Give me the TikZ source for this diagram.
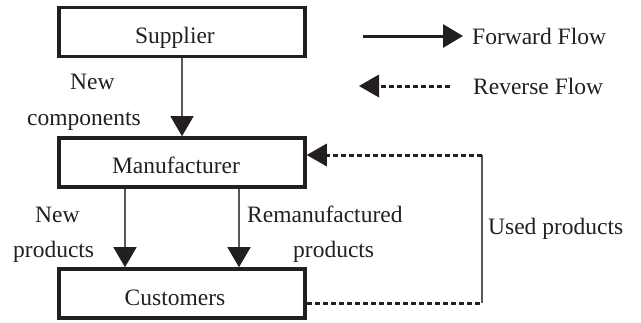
\documentclass[tikz,border=0pt]{standalone}
\usepackage{fontspec}
\setmainfont{Liberation Serif}
\usetikzlibrary{arrows.meta,calc}
\definecolor{ink}{HTML}{231F20}
\definecolor{thin}{HTML}{58595B}
\tikzset{
  box/.style={draw=ink,line width=3.6pt,minimum width=246pt,minimum height=49pt,inner sep=0pt,text=ink},
  lbl/.style={text=ink,inner sep=0pt,anchor=base west},
  fwd/.style={draw=thin,line width=1.3pt,-{Triangle[length=20pt,width=23pt,fill=ink,color=ink]}},
  rev/.style={draw=ink,line width=3pt,dash pattern=on 5pt off 3pt},
  revhead/.style={rev,-{Triangle[length=20pt,width=23pt,fill=ink,color=ink,line width=0pt]}},
  vline/.style={draw=thin,line width=1.3pt}
}
\begin{document}
\begin{tikzpicture}[x=1pt,y=-1pt,font=\fontsize{23.5}{28}\selectfont]
\useasboundingbox (0,0) rectangle (641,322);
\node[box] (sup) at (182,32) {};
\node[box] (man) at (182,162.5) {};
\node[box] (cus) at (182,293.5) {};
\node[text=ink,inner sep=0pt,anchor=base] (tsup) at (175,43) {Supplier};
\node[text=ink,inner sep=0pt,anchor=base] (tman) at (176,173) {Manufacturer};
\node[text=ink,inner sep=0pt,anchor=base] (tcus) at (175,305) {Customers};
% supplier -> manufacturer
\draw[fwd] (sup.south -| 182,0) -- (man.north -| 182,0);
\node[lbl] (nc1) at (70,89) {New};
\node[lbl] (nc2) at (27,125) {components};
% manufacturer -> customers
\coordinate (a1) at (125,0);
\coordinate (a2) at (239,0);
\draw[fwd] (man.south -| a1) -- (cus.north -| a1);
\draw[fwd] (man.south -| a2) -- (cus.north -| a2);
\node[lbl] (np1) at (35,222) {New};
\node[lbl] (np2) at (13,257) {products};
\node[lbl] (rp1) at (247,222) {Remanufactured};
\node[lbl] (rp2) at (293,257) {products};
% reverse flow
\coordinate (u1) at (482,303);
\coordinate (u2) at (482,155);
\draw[rev] (cus.east |- u1) -- (u1);
\draw[vline] (u1) -- (u2);
\draw[revhead] (u2) -- (man.east |- u2);
\node[lbl] (up) at (488,234) {Used products};
% legend
\coordinate (f1) at (363,36);
\coordinate (f2) at (463,36);
\draw[draw=ink,line width=3pt,-{Triangle[length=20pt,width=23pt,fill=ink,color=ink]}] (f1) -- (f2);
\node[lbl] (ff) at (472,44) {Forward Flow};
\coordinate (r1) at (450,86);
\coordinate (r2) at (359,86);
\draw[revhead] (r1) -- (r2);
\node[lbl] (rf) at (473,94) {Reverse Flow};
\end{tikzpicture}
\end{document}
